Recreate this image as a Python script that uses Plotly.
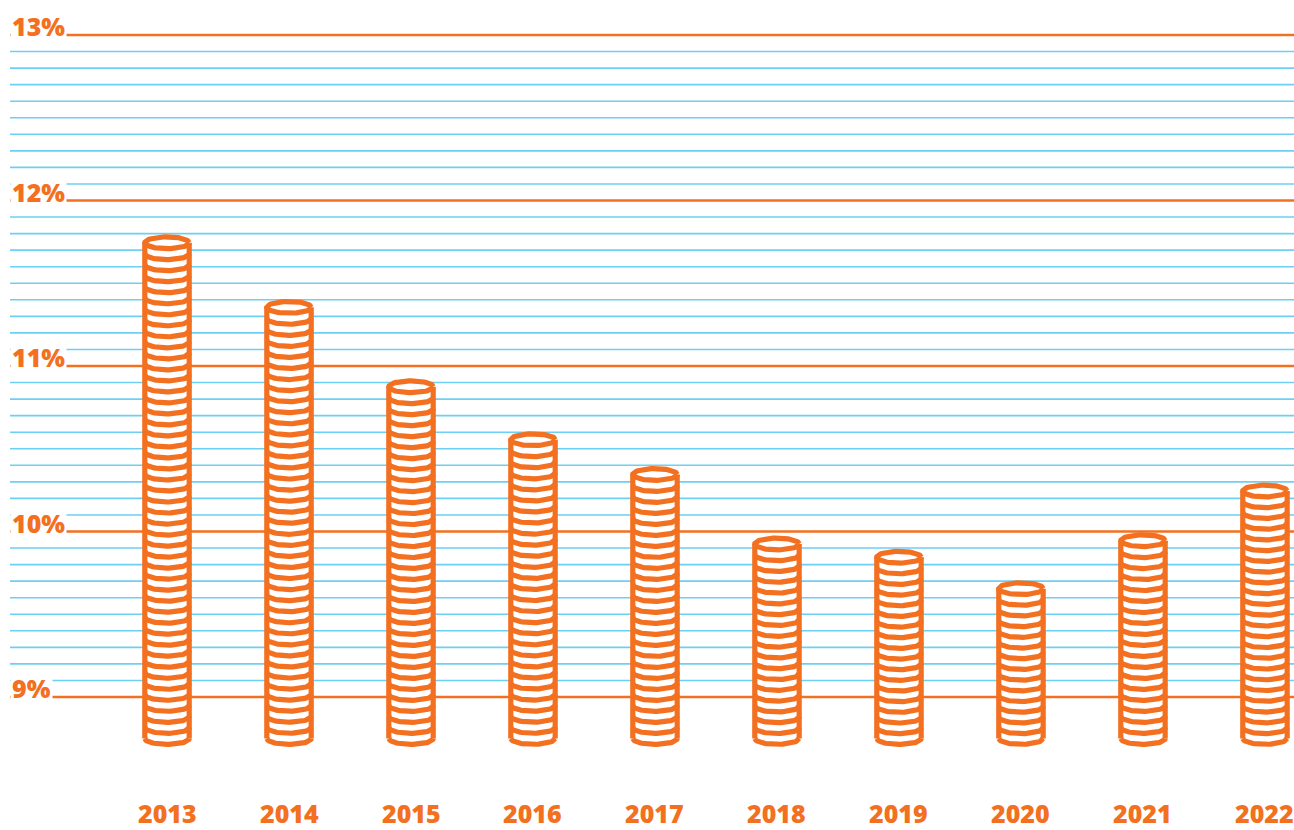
import numpy as np
import plotly.graph_objects as go

# ---- data ----
years = ["2013", "2014", "2015", "2016", "2017", "2018", "2019", "2020", "2021", "2022"]
values = [11.78, 11.39, 10.91, 10.59, 10.38, 9.96, 9.88, 9.69, 9.98, 10.28]  # % (top of coin stack)
major_ticks = [9, 10, 11, 12, 13]
major_labels = ["9%", "10%", "11%", "12%", "13%"]
minor_ticks = [round(9 + 0.1 * i, 1) for i in range(1, 40) if i % 10 != 0]

# ---- style ----
ORANGE = "#F37021"
BLUE = "#6CCFF3"
FONT = "Open Sans"

# layout geometry
px_per_unit = 165.5
y_top = 13 + 35 / px_per_unit
plot_h = 830 - 40
y_bot = y_top - plot_h / px_per_unit
x_range = [-1.287, 9.238]

base = 8.714          # bottom of stacks
a = 0.182             # coin half-width (x units)
b = 0.0355            # coin half-height (y units)
d_target = 0.0662     # coin thickness (y units)

fig = go.Figure()

# gridlines
shapes = []
for yv in minor_ticks:
    shapes.append(dict(type="line", xref="paper", yref="y", x0=0, x1=1, y0=yv, y1=yv,
                       line=dict(color=BLUE, width=1.6), layer="below"))
for yv in major_ticks:
    shapes.append(dict(type="line", xref="paper", yref="y", x0=0, x1=1, y0=yv, y1=yv,
                       line=dict(color=ORANGE, width=2.6), layer="below"))

t_full = np.linspace(0, 2 * np.pi, 73)
t_low = np.linspace(np.pi, 2 * np.pi, 37)

for i, (yr, v) in enumerate(zip(years, values)):
    cx = i
    top_c = v - b
    bot_c = base + b
    h = top_c - bot_c
    n = max(1, int(round(h / d_target)))
    d = h / n
    # white fill silhouette
    t_up = np.linspace(0, np.pi, 37)
    fx = list(cx + a * np.cos(t_up)) + list(cx + a * np.cos(t_low))
    fy = list(top_c + b * np.sin(t_up)) + list(bot_c + b * np.sin(t_low))
    fig.add_trace(go.Scatter(x=fx, y=fy, fill="toself", fillcolor="white",
                             line=dict(width=0), mode="lines", hoverinfo="skip", showlegend=False))
    xs, ys = [], []
    # top ellipse
    xs += list(cx + a * np.cos(t_full)) + [None]
    ys += list(top_c + b * np.sin(t_full)) + [None]
    # sides
    xs += [cx - a, cx - a, None, cx + a, cx + a, None]
    ys += [top_c, bot_c, None, top_c, bot_c, None]
    # coin edges
    for k in range(1, n + 1):
        yc = top_c - k * d
        xs += list(cx + a * np.cos(t_low)) + [None]
        ys += list(yc + b * np.sin(t_low)) + [None]
    fig.add_trace(go.Scatter(x=xs, y=ys, mode="lines",
                             line=dict(color=ORANGE, width=5.2), hoverinfo="skip",
                             showlegend=False))

annotations = []
for yv, lab in zip(major_ticks, major_labels):
    annotations.append(dict(xref="paper", yref="y", x=0, y=yv, xanchor="left", yanchor="middle",
                            text=lab, showarrow=False, bgcolor="white", borderpad=1, yshift=9,
                            font=dict(family=FONT, size=25, color=ORANGE, weight=800)))
for i, yr in enumerate(years):
    annotations.append(dict(xref="x", yref="paper", x=i, y=0, xanchor="center", yanchor="middle",
                            text=yr, showarrow=False, yshift=-23, borderpad=0,
                            font=dict(family=FONT, size=25, color=ORANGE, weight=800)))

fig.update_layout(
    width=1294, height=830,
    margin=dict(l=10, r=0, t=0, b=40),
    paper_bgcolor="white", plot_bgcolor="white",
    shapes=shapes, annotations=annotations,
    xaxis=dict(range=x_range, showticklabels=False, showgrid=False, zeroline=False,
               showline=False, ticks=""),
    yaxis=dict(range=[y_bot, y_top], showgrid=False, zeroline=False, showticklabels=False,
               showline=False, ticks=""),
)

fig.write_html("out.html", config={"displayModeBar": False},
               post_script="document.body.style.margin='0';document.body.style.overflow='hidden';")
